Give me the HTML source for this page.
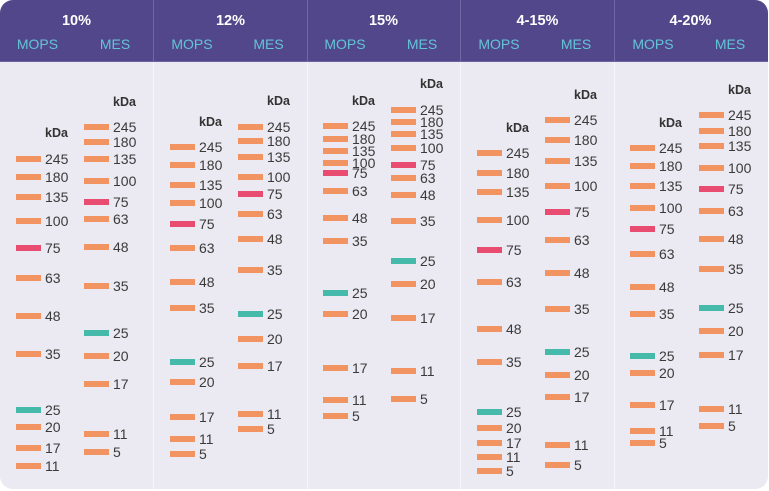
<!DOCTYPE html>
<html><head><meta charset="utf-8"><style>
*{margin:0;padding:0;box-sizing:border-box}
html,body{width:769px;height:491px;background:#fff;overflow:hidden}
body{font-family:"Liberation Sans",Arial,sans-serif;color:#3a3a3a}
.card{position:absolute;left:0;top:0;width:768px;height:489px;background:#ebe9f1;border-radius:13px;overflow:hidden}
.hd{position:absolute;left:0;top:0;width:768px;height:62px;background:#52478a;border-bottom:1px solid #6d63a0}
.dv{position:absolute;top:0;width:1px;height:489px;background:#f6f5fa}
.dvh{position:absolute;top:0;width:1px;height:62px;background:#7168a6}
.p{position:absolute;top:0;width:153px;height:489px}
.t{position:absolute;left:0;width:153px;top:12px;text-align:center;color:#fff;font-weight:bold;font-size:14.5px;line-height:18px}
.c{position:absolute;top:36px;width:60px;margin-left:-30px;text-align:center;color:#63c4d7;font-size:14px;line-height:17px}
.r{position:absolute;height:16px;line-height:16px;padding-left:29px;font-size:14px;white-space:nowrap}
.r i{position:absolute;left:0;top:5px;width:25px;height:6px;background:#f29462}
.r i.k{background:#e84c70}
.r i.g{background:#45b9aa}
.m{left:16px}.s{left:84px}
.kd{font-weight:bold;font-size:12.5px;color:#333}
</style></head><body>
<div class="card">
<div class="hd"></div>
<div class="dvh" style="left:153px"></div><div class="dvh" style="left:307px"></div><div class="dvh" style="left:460px"></div><div class="dvh" style="left:614px"></div>
<div class="dv" style="left:153px;top:63px;height:426px"></div><div class="dv" style="left:307px;top:63px;height:426px"></div><div class="dv" style="left:460px;top:63px;height:426px"></div><div class="dv" style="left:614px;top:63px;height:426px"></div>

<!-- Panel 1 -->
<div class="p" style="left:0">
<div class="t">10%</div><div class="c" style="left:37.5px">MOPS</div><div class="c" style="left:115px">MES</div>
<div class="r m kd" style="top:125px">kDa</div>
<div class="r m" style="top:151px"><i></i>245</div>
<div class="r m" style="top:168.5px"><i></i>180</div>
<div class="r m" style="top:189px"><i></i>135</div>
<div class="r m" style="top:213px"><i></i>100</div>
<div class="r m" style="top:240px"><i class="k"></i>75</div>
<div class="r m" style="top:270px"><i></i>63</div>
<div class="r m" style="top:308px"><i></i>48</div>
<div class="r m" style="top:346px"><i></i>35</div>
<div class="r m" style="top:402px"><i class="g"></i>25</div>
<div class="r m" style="top:419px"><i></i>20</div>
<div class="r m" style="top:440px"><i></i>17</div>
<div class="r m" style="top:458px"><i></i>11</div>
<div class="r s kd" style="top:94px">kDa</div>
<div class="r s" style="top:119px"><i></i>245</div>
<div class="r s" style="top:134px"><i></i>180</div>
<div class="r s" style="top:151px"><i></i>135</div>
<div class="r s" style="top:173px"><i></i>100</div>
<div class="r s" style="top:194px"><i class="k"></i>75</div>
<div class="r s" style="top:211px"><i></i>63</div>
<div class="r s" style="top:239px"><i></i>48</div>
<div class="r s" style="top:278px"><i></i>35</div>
<div class="r s" style="top:325px"><i class="g"></i>25</div>
<div class="r s" style="top:348px"><i></i>20</div>
<div class="r s" style="top:376px"><i></i>17</div>
<div class="r s" style="top:426px"><i></i>11</div>
<div class="r s" style="top:444px"><i></i>5</div>
</div>

<!-- Panel 2 -->
<div class="p" style="left:154px">
<div class="t">12%</div><div class="c" style="left:38px">MOPS</div><div class="c" style="left:114.5px">MES</div>
<div class="r m kd" style="top:114px">kDa</div>
<div class="r m" style="top:139px"><i></i>245</div>
<div class="r m" style="top:157px"><i></i>180</div>
<div class="r m" style="top:177px"><i></i>135</div>
<div class="r m" style="top:195px"><i></i>100</div>
<div class="r m" style="top:216px"><i class="k"></i>75</div>
<div class="r m" style="top:240px"><i></i>63</div>
<div class="r m" style="top:274px"><i></i>48</div>
<div class="r m" style="top:300px"><i></i>35</div>
<div class="r m" style="top:354px"><i class="g"></i>25</div>
<div class="r m" style="top:374px"><i></i>20</div>
<div class="r m" style="top:409px"><i></i>17</div>
<div class="r m" style="top:431px"><i></i>11</div>
<div class="r m" style="top:446px"><i></i>5</div>
<div class="r s kd" style="top:93px">kDa</div>
<div class="r s" style="top:119px"><i></i>245</div>
<div class="r s" style="top:133px"><i></i>180</div>
<div class="r s" style="top:149px"><i></i>135</div>
<div class="r s" style="top:169px"><i></i>100</div>
<div class="r s" style="top:186px"><i class="k"></i>75</div>
<div class="r s" style="top:206px"><i></i>63</div>
<div class="r s" style="top:231px"><i></i>48</div>
<div class="r s" style="top:262px"><i></i>35</div>
<div class="r s" style="top:306px"><i class="g"></i>25</div>
<div class="r s" style="top:331px"><i></i>20</div>
<div class="r s" style="top:358px"><i></i>17</div>
<div class="r s" style="top:406px"><i></i>11</div>
<div class="r s" style="top:421px"><i></i>5</div>
</div>

<!-- Panel 3 -->
<div class="p" style="left:307px">
<div class="t">15%</div><div class="c" style="left:38px">MOPS</div><div class="c" style="left:115px">MES</div>
<div class="r m kd" style="top:93px">kDa</div>
<div class="r m" style="top:118px"><i></i>245</div>
<div class="r m" style="top:131px"><i></i>180</div>
<div class="r m" style="top:143px"><i></i>135</div>
<div class="r m" style="top:155px"><i></i>100</div>
<div class="r m" style="top:165px"><i class="k"></i>75</div>
<div class="r m" style="top:183px"><i></i>63</div>
<div class="r m" style="top:210px"><i></i>48</div>
<div class="r m" style="top:233px"><i></i>35</div>
<div class="r m" style="top:285px"><i class="g"></i>25</div>
<div class="r m" style="top:306px"><i></i>20</div>
<div class="r m" style="top:360px"><i></i>17</div>
<div class="r m" style="top:392px"><i></i>11</div>
<div class="r m" style="top:408px"><i></i>5</div>
<div class="r s kd" style="top:76px">kDa</div>
<div class="r s" style="top:102px"><i></i>245</div>
<div class="r s" style="top:114px"><i></i>180</div>
<div class="r s" style="top:126px"><i></i>135</div>
<div class="r s" style="top:140px"><i></i>100</div>
<div class="r s" style="top:157px"><i class="k"></i>75</div>
<div class="r s" style="top:170px"><i></i>63</div>
<div class="r s" style="top:187px"><i></i>48</div>
<div class="r s" style="top:213px"><i></i>35</div>
<div class="r s" style="top:253px"><i class="g"></i>25</div>
<div class="r s" style="top:276px"><i></i>20</div>
<div class="r s" style="top:310px"><i></i>17</div>
<div class="r s" style="top:363px"><i></i>11</div>
<div class="r s" style="top:391px"><i></i>5</div>
</div>

<!-- Panel 4 -->
<div class="p" style="left:461px">
<div class="t">4-15%</div><div class="c" style="left:38px">MOPS</div><div class="c" style="left:115px">MES</div>
<div class="r m kd" style="top:120px">kDa</div>
<div class="r m" style="top:144.5px"><i></i>245</div>
<div class="r m" style="top:165px"><i></i>180</div>
<div class="r m" style="top:183.5px"><i></i>135</div>
<div class="r m" style="top:212px"><i></i>100</div>
<div class="r m" style="top:242px"><i class="k"></i>75</div>
<div class="r m" style="top:274px"><i></i>63</div>
<div class="r m" style="top:321px"><i></i>48</div>
<div class="r m" style="top:354px"><i></i>35</div>
<div class="r m" style="top:403.5px"><i class="g"></i>25</div>
<div class="r m" style="top:419.5px"><i></i>20</div>
<div class="r m" style="top:435px"><i></i>17</div>
<div class="r m" style="top:449px"><i></i>11</div>
<div class="r m" style="top:463px"><i></i>5</div>
<div class="r s kd" style="top:87px">kDa</div>
<div class="r s" style="top:112px"><i></i>245</div>
<div class="r s" style="top:132px"><i></i>180</div>
<div class="r s" style="top:152.5px"><i></i>135</div>
<div class="r s" style="top:178px"><i></i>100</div>
<div class="r s" style="top:203.5px"><i class="k"></i>75</div>
<div class="r s" style="top:232px"><i></i>63</div>
<div class="r s" style="top:265px"><i></i>48</div>
<div class="r s" style="top:301px"><i></i>35</div>
<div class="r s" style="top:344px"><i class="g"></i>25</div>
<div class="r s" style="top:366.5px"><i></i>20</div>
<div class="r s" style="top:389px"><i></i>17</div>
<div class="r s" style="top:437px"><i></i>11</div>
<div class="r s" style="top:457px"><i></i>5</div>
</div>

<!-- Panel 5 -->
<div class="p" style="left:614px">
<div class="t">4-20%</div><div class="c" style="left:39px">MOPS</div><div class="c" style="left:116px">MES</div>
<div class="r m kd" style="top:115px">kDa</div>
<div class="r m" style="top:140px"><i></i>245</div>
<div class="r m" style="top:158px"><i></i>180</div>
<div class="r m" style="top:178px"><i></i>135</div>
<div class="r m" style="top:200px"><i></i>100</div>
<div class="r m" style="top:221px"><i class="k"></i>75</div>
<div class="r m" style="top:246px"><i></i>63</div>
<div class="r m" style="top:279px"><i></i>48</div>
<div class="r m" style="top:306px"><i></i>35</div>
<div class="r m" style="top:347.5px"><i class="g"></i>25</div>
<div class="r m" style="top:365px"><i></i>20</div>
<div class="r m" style="top:396.5px"><i></i>17</div>
<div class="r m" style="top:423px"><i></i>11</div>
<div class="r m" style="top:435px"><i></i>5</div>
<div class="r s kd" style="top:82px;left:85px">kDa</div>
<div class="r s" style="top:107px;left:85px"><i></i>245</div>
<div class="r s" style="top:123px;left:85px"><i></i>180</div>
<div class="r s" style="top:138px;left:85px"><i></i>135</div>
<div class="r s" style="top:160px;left:85px"><i></i>100</div>
<div class="r s" style="top:181px;left:85px"><i class="k"></i>75</div>
<div class="r s" style="top:203px;left:85px"><i></i>63</div>
<div class="r s" style="top:231px;left:85px"><i></i>48</div>
<div class="r s" style="top:261px;left:85px"><i></i>35</div>
<div class="r s" style="top:300px;left:85px"><i class="g"></i>25</div>
<div class="r s" style="top:323px;left:85px"><i></i>20</div>
<div class="r s" style="top:346.5px;left:85px"><i></i>17</div>
<div class="r s" style="top:401px;left:85px"><i></i>11</div>
<div class="r s" style="top:418px;left:85px"><i></i>5</div>
</div>
</div>
</body></html>
